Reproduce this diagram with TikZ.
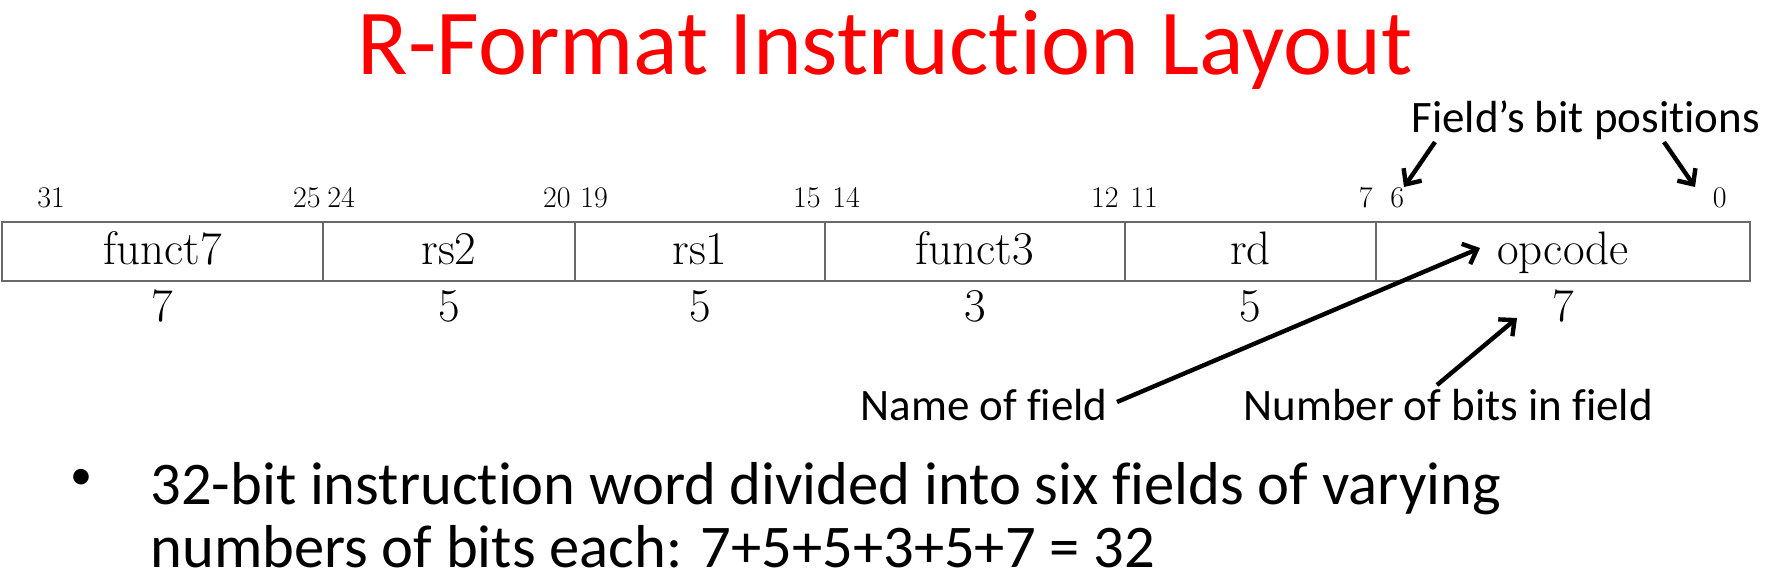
\documentclass[tikz,border=0pt]{standalone}
\usepackage{fontspec}
\newfontfamily\calib[Ligatures=NoCommon]{Carlito}
\usetikzlibrary{arrows.meta}
\definecolor{boxgray}{RGB}{105,105,105}
\definecolor{titlered}{RGB}{255,0,0}
\tikzset{
  field/.style={draw=boxgray, line width=1pt, inner sep=0pt, outer sep=0pt,
    minimum height=29.5pt, text height=15pt, text depth=2.5pt,
    font=\fontsize{23.5}{28}\selectfont},
  bitnum/.style={inner sep=0pt, font=\fontsize{15}{18}\selectfont},
  sizenum/.style={inner sep=0pt, anchor=base, font=\fontsize{23.5}{28}\selectfont},
  note/.style={inner sep=0pt, font=\calib\fontsize{22.5}{27}\selectfont},
  callout/.style={line width=2.2pt, -{Straight Barb[length=6pt,width=11pt]}},
}
\begin{document}
\begin{tikzpicture}[x=0.5pt,y=-0.5pt]
\useasboundingbox (0,0) rectangle (1767,579);
% title
\node[inner sep=0pt, anchor=base, text=titlered, font=\calib\fontsize{46.5}{56}\selectfont] (title) at (885,74) {R-Format Instruction Layout};
% fields
\node[field, minimum width=160.5pt] (f7) at (162.5,251.5) {funct7};
\node[field, minimum width=126pt] (rs2) at (449,251.5) {rs2};
\node[field, minimum width=125pt] (rs1) at (700,251.5) {rs1};
\node[field, minimum width=150pt] (f3) at (975,251.5) {funct3};
\node[field, minimum width=125.5pt] (rd) at (1250.5,251.5) {rd};
\node[field, minimum width=187pt] (op) at (1563,251.5) {opcode};
% bit positions
\node[bitnum, anchor=base west] (b31) at (37,207) {31};
\node[bitnum, anchor=base east] (b25) at (321,207) {25};
\node[bitnum, anchor=base west] (b24) at (327,207) {24};
\node[bitnum, anchor=base east] (b20) at (571,207) {20};
\node[bitnum, anchor=base west] (b19) at (580,207) {19};
\node[bitnum, anchor=base east] (b15) at (821,207) {15};
\node[bitnum, anchor=base west] (b14) at (832,207) {14};
\node[bitnum, anchor=base east] (b12) at (1119,207) {12};
\node[bitnum, anchor=base west] (b11) at (1130,207) {11};
\node[bitnum, anchor=base east] (b7) at (1373,207) {7};
\node[bitnum, anchor=base west] (b6) at (1390,207) {6};
\node[bitnum, anchor=base east] (b0) at (1727,207) {0};
% field sizes
\node[sizenum] (s7a) at (162.5,321) {7};
\node[sizenum] (s5a) at (449,321) {5};
\node[sizenum] (s5b) at (700,321) {5};
\node[sizenum] (s3) at (975,321) {3};
\node[sizenum] (s5c) at (1250.5,321) {5};
\node[sizenum] (s7b) at (1563,321) {7};
% notes
\node[note, anchor=base west] (fbp) at (1411,132) {Field’s bit positions};
\node[note, anchor=base east] (nof) at (1108,420) {Name of field};
\node[note, anchor=base west] (nbf) at (1243,420) {Number of bits in field};
% arrow ends
\coordinate (a1s) at (1435,142);
\coordinate (a1e) at (1404,187);
\coordinate (a2s) at (1664,142);
\coordinate (a2e) at (1695,187);
\coordinate (a3s) at (1117,402);
\coordinate (a3e) at (1480,248);
\coordinate (a4s) at (1437,385);
\coordinate (a4e) at (1517,318);
\draw[callout] (a1s) -- (a1e);
\draw[callout] (a2s) -- (a2e);
\draw[callout] (a3s) -- (a3e);
\draw[callout] (a4s) -- (a4e);
% bullet
\node[inner sep=0pt, font=\calib\fontsize{22}{26}\selectfont] (bul) at (81,479) {•};
\node[inner sep=0pt, anchor=base west, font=\calib\fontsize{30.3}{36}\selectfont] (l1) at (150,504) {32-bit instruction word divided into six fields of varying};
\node[inner sep=0pt, anchor=base west, font=\calib\fontsize{30.3}{36}\selectfont] (l2) at (150,567) {numbers of bits each: 7+5+5+3+5+7 = 32};
\end{tikzpicture}
\end{document}
